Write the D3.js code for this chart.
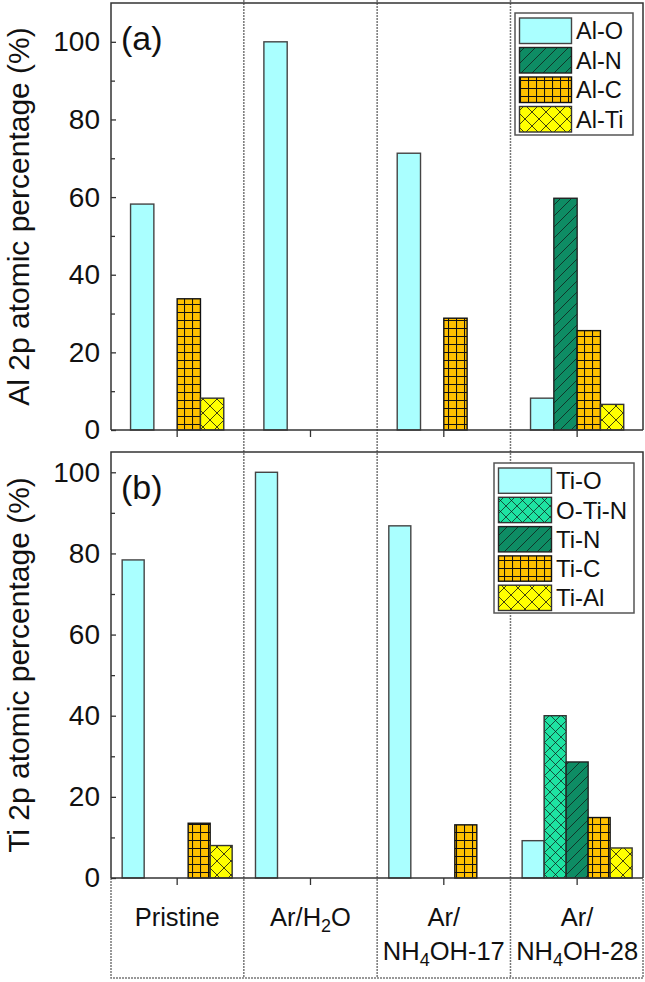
<!DOCTYPE html>
<html>
<head>
<meta charset="utf-8">
<script src="https://cdn.jsdelivr.net/npm/d3@7"></script>
<style>
  html, body { margin: 0; padding: 0; background: #fff; }
  svg { display: block; font-family: "Liberation Sans", Arial, sans-serif; }
</style>
</head>
<body>
<svg id="chart" width="645" height="982"></svg>
<script>
// ---------- data ----------
const categories = ["Pristine", "Ar/H2O", "Ar/NH4OH-17", "Ar/NH4OH-28"];

const alSeries = ["Al-O", "Al-N", "Al-C", "Al-Ti"];
const alO  = [58.2, 100, 71.3, 8.2];
const alN  = [0, 0, 0, 59.7];
const alC  = [33.8, 0, 28.8, 25.6];
const alTi = [8.2, 0, 0, 6.6];

const tiSeries = ["Ti-O", "O-Ti-N", "Ti-N", "Ti-C", "Ti-Al"];
const tiO  = [78.4, 100, 86.8, 9.2];
const oTiN = [0, 0, 0, 40.0];
const tiN  = [0, 0, 0, 28.6];
const tiC  = [13.5, 0, 13.1, 14.9];
const tiAl = [8.0, 0, 0, 7.4];

const yMajorTicks = [0, 20, 40, 60, 80, 100];
const yMinorTicks = [10, 30, 50, 70, 90];

// ---------- setup ----------
const svg = d3.select("#chart");
const defs = svg.append("defs");

function makePattern(id, size, fill, pathD, sw) {
  const p = defs.append("pattern").attr("id", id)
    .attr("patternUnits", "userSpaceOnUse")
    .attr("width", size).attr("height", size);
  p.append("rect").attr("width", size).attr("height", size).attr("fill", fill);
  p.append("path").attr("d", pathD).attr("stroke", "#111").attr("stroke-width", sw).attr("fill", "none");
}
makePattern("pGrid", 8, "#FFC000", "M0,0.5H8 M0.5,0V8", 1.1);
makePattern("pDiag", 11, "#0E8C64", "M0,11L11,0 M-2,2L2,-2 M9,13L13,9", 0.7);
makePattern("pCrossY", 14, "#FFFF00", "M0,0L14,14 M14,0L0,14", 0.8);
makePattern("pCrossG", 11, "#1EE3A2", "M0,0L11,11 M11,0L0,11", 0.7);

const styles = {
  "Al-O":  { fill: "#AAFFFF", stroke: "#444" },
  "Al-N":  { fill: "url(#pDiag)", stroke: "#222" },
  "Al-C":  { fill: "url(#pGrid)", stroke: "#111" },
  "Al-Ti": { fill: "url(#pCrossY)", stroke: "#333" },
  "Ti-O":  { fill: "#AAFFFF", stroke: "#444" },
  "O-Ti-N":{ fill: "url(#pCrossG)", stroke: "#333" },
  "Ti-N":  { fill: "url(#pDiag)", stroke: "#222" },
  "Ti-C":  { fill: "url(#pGrid)", stroke: "#111" },
  "Ti-Al": { fill: "url(#pCrossY)", stroke: "#333" }
};

const left = 111, right = 643;
const x0 = d3.scaleBand().domain(categories).range([left - 0.5, right + 0.8]).paddingInner(0).paddingOuter(0);

const panels = [
  { top: 3, bottom: 430, max: 110, series: alSeries, values: [alO, alN, alC, alTi], barW: 23.3,
    label: "Al 2p atomic percentage (%)", tag: "(a)",
    legend: { x: 515, y: 13, w: 118, h: 122, row: 29.5, sw: 52, fs: 23.5 } },
  { top: 452, bottom: 878, max: 105, series: tiSeries, values: [tiO, oTiN, tiN, tiC, tiAl], barW: 22,
    label: "Ti 2p atomic percentage (%)", tag: "(b)",
    legend: { x: 494, y: 463, w: 140, h: 150, row: 29.3, sw: 53, fs: 24 } }
];

const axisColor = "#333";

// dashed dividers
const dividers = categories.slice(1).map(c => x0(c));
svg.append("g").selectAll("line").data(dividers).join("line")
  .attr("x1", d => d).attr("x2", d => d).attr("y1", 0).attr("y2", 978)
  .attr("stroke", "#777").attr("stroke-width", 1.5).attr("stroke-dasharray", "2,1");

// bottom dashed label box
svg.append("path")
  .attr("d", `M${left},878V978H${right}V878`)
  .attr("fill", "none").attr("stroke", "#777").attr("stroke-width", 1.5).attr("stroke-dasharray", "2,1");

panels.forEach(P => {
  const y = d3.scaleLinear().domain([0, P.max]).range([P.bottom, P.top]);
  const n = P.series.length;
  const x1 = d3.scaleBand().domain(P.series).range([0, n * P.barW]);
  const g = svg.append("g");

  // bars
  P.series.forEach((s, si) => {
    const vals = P.values[si];
    g.append("g").selectAll("rect").data(categories.map((c, i) => ({ c, v: vals[i] })).filter(d => d.v > 0))
      .join("rect")
      .attr("x", d => x0(d.c) + x0.bandwidth() / 2 - n * P.barW / 2 + x1(s))
      .attr("y", d => y(d.v))
      .attr("width", x1.bandwidth())
      .attr("height", d => y(0) - y(d.v))
      .attr("fill", styles[s].fill)
      .attr("stroke", styles[s].stroke)
      .attr("stroke-width", 1.4);
  });

  // frame
  g.append("path")
    .attr("d", `M${left},${P.bottom}V${P.top}H${right}V${P.bottom}`)
    .attr("fill", "none").attr("stroke", axisColor).attr("stroke-width", 1.5);

  // y axis major
  const yMaj = g.append("g").attr("transform", `translate(${left},0)`)
    .call(d3.axisLeft(y).tickValues(yMajorTicks).tickSize(-5).tickPadding(11).tickFormat(d3.format("d")));
  yMaj.select(".domain").remove();
  yMaj.selectAll("line").attr("stroke", axisColor).attr("stroke-width", 1.3);
  yMaj.selectAll("text").attr("font-size", 28).attr("fill", "#111")
    .attr("font-family", "Liberation Sans, Arial, sans-serif");
  // minor
  const yMin = g.append("g").attr("transform", `translate(${left},0)`)
    .call(d3.axisLeft(y).tickValues(yMinorTicks).tickSize(-4).tickFormat(""));
  yMin.select(".domain").remove();
  yMin.selectAll("line").attr("stroke", axisColor).attr("stroke-width", 1.3);

  // x axis
  const xAx = g.append("g").attr("transform", `translate(0,${P.bottom})`)
    .call(d3.axisBottom(x0).tickSize(7).tickFormat(""));
  xAx.select(".domain").attr("stroke", axisColor).attr("stroke-width", 1.5)
    .attr("d", `M${left},0H${right}`);
  xAx.selectAll("line").attr("stroke", axisColor).attr("stroke-width", 1.3);

  // y label
  const cy = (P.top + P.bottom) / 2;
  g.append("text")
    .attr("transform", `translate(29,${cy}) rotate(-90)`)
    .attr("text-anchor", "middle").attr("font-size", 30).attr("fill", "#111")
    .text(P.label);

  // panel tag
  g.append("text").attr("x", 121).attr("y", P.top + 47)
    .attr("font-size", 34).attr("fill", "#111").text(P.tag);

  // legend
  const L = P.legend;
  const lg = g.append("g");
  lg.append("rect").attr("x", L.x).attr("y", L.y).attr("width", L.w).attr("height", L.h)
    .attr("fill", "#fff").attr("stroke", "#555").attr("stroke-width", 1.5);
  P.series.forEach((s, i) => {
    const ry = L.y + 5 + i * L.row;
    lg.append("rect").attr("x", L.x + 4.5).attr("y", ry).attr("width", L.sw).attr("height", L.row - 4)
      .attr("fill", styles[s].fill).attr("stroke", styles[s].stroke).attr("stroke-width", 1.4);
    lg.append("text").attr("x", L.x + L.sw + 9).attr("y", ry + (L.row - 4) / 2 + L.fs * 0.36)
      .attr("font-size", L.fs).attr("fill", "#111").text(s);
  });
});

// category labels
const catLabels = [
  [{ t: "Pristine" }],
  [{ t: "Ar/H" }, { t: "2", sub: true }, { t: "O" }],
  [{ t: "Ar/" }],
  [{ t: "Ar/" }]
];
const catLine2 = [null, null,
  [{ t: "NH" }, { t: "4", sub: true }, { t: "OH-17" }],
  [{ t: "NH" }, { t: "4", sub: true }, { t: "OH-28" }]];

function writeRich(parts, xc, yb) {
  const t = svg.append("text").attr("x", xc).attr("y", yb).attr("text-anchor", "middle")
    .attr("font-size", 25.5).attr("fill", "#111");
  parts.forEach((p, i) => {
    const ts = t.append("tspan").text(p.t);
    if (p.sub) ts.attr("font-size", 18).attr("dy", 6);
    else if (i > 0 && parts[i - 1].sub) ts.attr("dy", -6);
  });
}
categories.forEach((c, i) => {
  const xc = x0(c) + x0.bandwidth() / 2;
  writeRich(catLabels[i], xc, 926);
  if (catLine2[i]) writeRich(catLine2[i], xc, 960);
});
</script>
</body>
</html>
